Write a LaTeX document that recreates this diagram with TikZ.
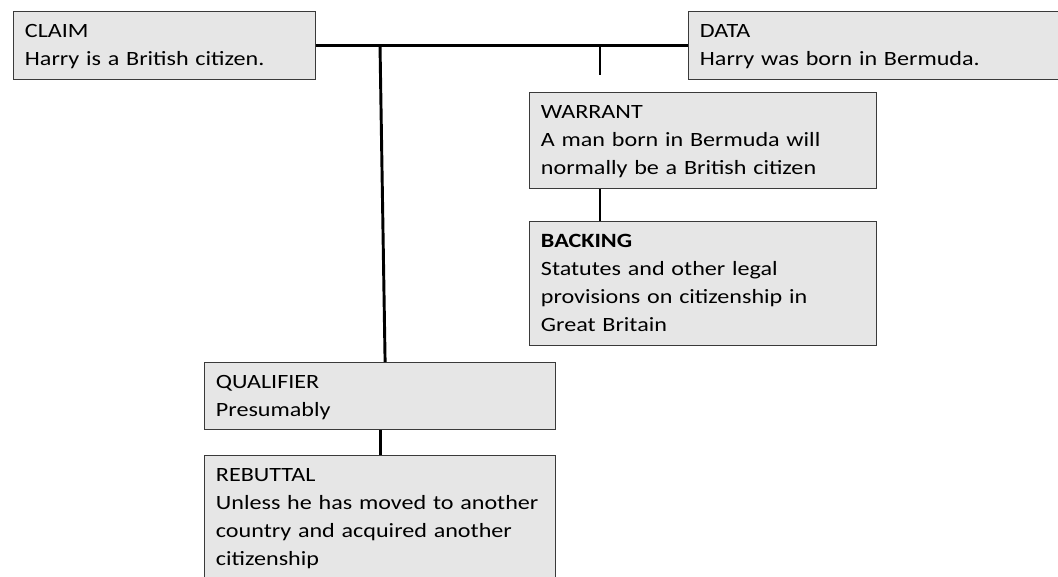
\documentclass[tikz,border=0pt]{standalone}
\usepackage{fontspec}
\setmainfont{Carlito}[FakeStretch=1.19]
\definecolor{boxgray}{HTML}{E6E6E6}
\definecolor{boxline}{HTML}{3A3A3A}

\tikzstyle{box}=[draw=boxline, line width=0.9pt, fill=boxgray, anchor=north west, align=left,
  inner xsep=8.5pt, inner ysep=0pt, text height=19.5pt, font=\fontsize{15.2pt}{21pt}\selectfont]
\tikzstyle{link}=[line width=2.2pt]

\begin{document}
\begin{tikzpicture}[x=0.75pt, y=-0.75pt]
      \useasboundingbox (0,0) rectangle (1058,576);

      \node[box, text width=209.5pt, text depth=31.5pt] (claim) at (13,10.5) {CLAIM\\Harry is a British citizen.};
      \node[box, text width=269.5pt, text depth=31.5pt] (data) at (688,10.5) {DATA\\Harry was born in Bermuda.};
      \node[box, text width=243.25pt, text depth=52.5pt] (warrant) at (529,92) {WARRANT\\A man born in Bermuda will\\normally be a British citizen};
      \node[box, text width=243.25pt, text depth=73.5pt] (backing) at (529,221) {\textbf{BACKING}\\Statutes and other legal\\provisions on citizenship in\\Great Britain};
      \node[box, text width=246.25pt, text depth=30.75pt] (qualifier) at (204,362) {QUALIFIER\\Presumably};
      \node[box, text width=246.25pt, text depth=78pt] (rebuttal) at (204,455) {REBUTTAL\\Unless he has moved to another\\country and acquired another\\citizenship};

      \coordinate (qjoin) at (380,44.5);
      \coordinate (wjoin) at (600,44.5);
      \coordinate (wtick) at (600,75);

      \draw[link] (claim.east) to (data.west);
      \draw[link] (qjoin) to ([xshift=3.75pt]qualifier.north);
      \draw[link] (wjoin) to (wtick);
      \draw[link] (warrant.south -| wtick) to (backing.north -| wtick);
      \draw[link] (qualifier.south) to (rebuttal.north);
    \end{tikzpicture}
\end{document}
